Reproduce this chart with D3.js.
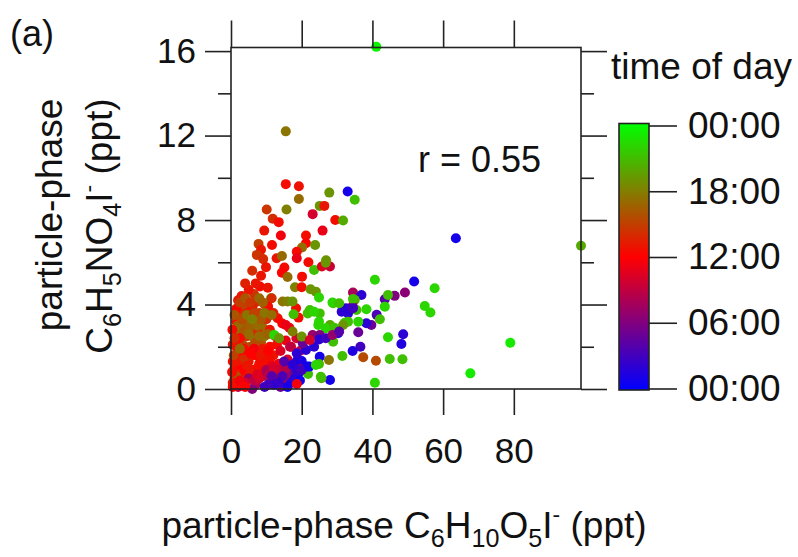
<!DOCTYPE html>
<html>
<head>
<meta charset="utf-8">
<script src="https://cdn.jsdelivr.net/npm/d3@7"></script>
<style>
  body { margin: 0; background: #fff; }
  text { font-family: "Liberation Sans", Arial, sans-serif; fill: #111; }
  .tick line { stroke: #222; stroke-width: 1.6; }
</style>
</head>
<body>
<div id="chart"></div>
<script>
// particle-phase C6H10O5I- (x, ppt), C6H5NO4I- (y, ppt), time of day (hour)
const points = [
  [41.1, 16.2, 23.5], [15.5, 12.2, 17.5], [15.5, 9.7, 12.5], [19.2, 9.6, 12.8],
  [19.2, 9.0, 17], [27.8, 9.3, 19], [33.0, 9.35, 1], [35.0, 8.96, 21],
  [25.1, 8.67, 19], [26.4, 8.67, 13], [10.1, 8.5, 14.5], [15.7, 8.5, 18],
  [11.8, 8.06, 14], [13.5, 7.9, 12.5], [23.1, 8.28, 10], [29.5, 8.0, 12.5],
  [31.7, 7.98, 20], [9.4, 7.5, 13], [25.9, 7.5, 11], [14.1, 7.27, 11.5],
  [21.2, 7.27, 12.5], [21.2, 6.9, 12], [7.8, 6.87, 15], [11.6, 6.82, 12.5],
  [23.8, 6.82, 19], [20.1, 6.7, 17], [18.6, 6.5, 12.5], [8.5, 6.59, 13],
  [7.3, 6.35, 14.5], [9.1, 6.15, 14], [12.9, 6.19, 13], [14.4, 6.3, 17],
  [18.6, 6.19, 11], [21.9, 6.0, 12.5], [9.9, 5.77, 13], [15.1, 5.75, 12.5],
  [14.4, 5.51, 12], [23.5, 5.64, 21], [25.7, 5.8, 10.5], [28.0, 5.8, 9.5],
  [26.9, 6.1, 19], [8.5, 5.36, 13], [20.1, 5.32, 12.5], [16.0, 5.3, 17],
  [63.6, 7.14, 1], [99.0, 6.78, 20], [40.7, 5.17, 22], [51.8, 5.09, 1],
  [57.6, 4.77, 22], [34.5, 4.57, 8], [36.9, 4.45, 2], [43.5, 4.25, 4],
  [46.3, 4.41, 6], [49.2, 4.57, 6.5], [44.4, 4.45, 21], [54.8, 3.93, 22],
  [56.4, 3.62, 22], [43.5, 3.9, 22], [38.3, 3.78, 22], [35.0, 4.22, 20],
  [41.2, 3.51, 3.5], [39.7, 3.03, 5], [38.3, 3.11, 2], [42.1, 3.3, 21],
  [48.7, 2.59, 2], [48.2, 2.13, 1.5], [44.4, 2.45, 22], [36.6, 2.0, 3],
  [34.4, 1.8, 1.5], [37.4, 1.5, 15.5], [41.0, 1.34, 15.5], [44.9, 1.42, 21],
  [48.5, 1.41, 21], [31.5, 1.56, 21], [28.0, 0.43, 1], [25.6, 0.51, 20],
  [40.7, 0.3, 22], [67.7, 0.74, 23], [79.0, 2.19, 23], [25.1, 1.53, 1],
  [21.8, 0.71, 21], [19.2, 0.77, 1.5], [17.1, 0.77, 18], [21.4, 1.06, 1],
  [20.0, 1.33, 1], [27.7, 1.37, 17.5], [24.9, 1.18, 21], [28.9, 2.24, 21],
  [30.3, 2.64, 1.5], [32.2, 3.14, 22], [33.1, 3.58, 2], [31.3, 3.66, 2],
  [28.9, 4.06, 21], [25.1, 3.58, 21], [24.7, 3.03, 22], [22.3, 3.74, 21],
  [28.0, 3.03, 20], [35.5, 3.74, 21], [34.4, 3.93, 7], [34.5, 4.26, 21],
  [32.5, 3.82, 2], [34.5, 3.82, 3], [33.1, 3.19, 21], [36.0, 3.19, 22],
  [36.0, 2.69, 5], [31.7, 3.03, 19], [26.8, 5.98, 19], [8.2, 4.85, 12.5],
  [18.1, 4.82, 18], [20.0, 4.82, 12.5], [22.5, 4.72, 19], [24.0, 4.61, 19],
  [10.4, 4.8, 13], [24.9, 4.33, 22], [28.7, 4.1, 22], [30.6, 4.06, 21],
  [7.5, 4.14, 14], [6.1, 3.9, 13.5], [4.7, 3.74, 13], [11.3, 4.3, 21],
  [14.6, 4.14, 17.5], [16.0, 4.14, 18], [18.4, 3.82, 12.5], [17.4, 4.14, 19],
  [19.1, 3.38, 12.5], [17.7, 3.54, 21], [13.2, 3.35, 12.5], [21.7, 3.58, 21],
  [23.5, 3.66, 22], [24.9, 3.19, 22], [26.8, 2.88, 22], [29.2, 2.9, 21],
  // dense cluster near the origin
  [1.5, 3.2, 13], [2.5, 3.6, 14], [3.5, 4.0, 15], [4.0, 3.0, 16],
  [5.0, 3.4, 17], [6.0, 2.8, 15], [7.0, 3.2, 16.5], [8.0, 3.6, 15],
  [9.0, 2.9, 17], [10.0, 3.3, 14], [2.0, 2.6, 15.5], [3.0, 2.2, 17],
  [4.5, 2.5, 14.5], [5.5, 2.0, 16], [6.5, 2.4, 17.5], [7.5, 2.7, 14],
  [8.5, 2.2, 16], [9.5, 2.5, 17.5], [11.0, 2.8, 13], [12.0, 3.6, 13.5],
  [11.5, 4.3, 14], [6.5, 4.5, 14.5], [5.0, 4.7, 13], [4.0, 5.0, 13.5],
  [9.5, 4.0, 15.5], [10.5, 3.9, 12.5], [3.0, 4.4, 13], [2.0, 4.2, 13],
  [1.5, 3.8, 12.5], [7.0, 5.0, 13], [6.0, 5.6, 14],
  [1.0, 3.5, 16], [2.0, 3.0, 17], [3.0, 3.3, 15.5], [4.5, 3.5, 17.5],
  [5.5, 3.0, 16.5], [6.5, 3.6, 15], [7.5, 3.0, 17], [8.5, 3.3, 16],
  [9.5, 3.6, 17.5], [3.5, 2.7, 16], [5.0, 2.6, 17], [7.0, 2.2, 15.5],
  [8.0, 2.5, 17], [10.5, 2.6, 16.5], [2.5, 4.1, 15], [4.0, 4.3, 16],
  [5.5, 4.1, 14.5], [8.0, 4.3, 17], [1.0, 2.8, 17.5], [6.0, 3.3, 18],
  [9.0, 4.1, 16.5], [11.5, 3.5, 17], [4.0, 2.0, 15], [2.0, 1.8, 16.5],
  [6.0, 1.6, 15.5],
  [1.0, 1.0, 12.5], [2.0, 1.5, 12], [3.0, 1.0, 12.5], [4.0, 1.8, 12],
  [5.0, 1.3, 13], [6.0, 0.9, 12.5], [7.0, 1.6, 12], [8.0, 1.2, 12.5],
  [9.0, 1.9, 13], [10.0, 1.4, 12], [11.0, 2.0, 12.5], [12.0, 1.6, 13],
  [1.5, 2.0, 13.5], [2.5, 2.4, 12.5], [3.5, 1.4, 14], [6.5, 1.9, 11.5],
  [8.5, 0.8, 12], [13.0, 2.1, 12.5],
  [0.5, 1.3, 12.5], [1.5, 1.2, 13], [2.5, 0.9, 12], [3.5, 1.9, 12.5],
  [4.5, 1.1, 13], [5.5, 1.7, 12], [7.5, 1.0, 12.5], [8.5, 1.6, 13],
  [9.5, 1.2, 12.5], [10.5, 1.8, 12], [0.5, 2.1, 13], [1.0, 0.5, 12.5],
  [2.0, 0.7, 13], [3.5, 0.7, 12], [4.5, 0.5, 12.5], [5.5, 0.8, 13],
  [0.4, 2.8, 12.5], [11.0, 1.4, 12.5],
  [0.8, 1.6, 15], [1.5, 0.6, 16], [2.5, 1.9, 17], [3.5, 0.4, 14.5],
  [0.5, 0.3, 13], [1.0, 2.4, 14],
  [12.5, 2.5, 11], [14.0, 1.8, 10.5], [15.5, 2.3, 11], [16.0, 1.4, 10],
  [17.0, 2.0, 10.5], [13.5, 1.2, 11.5], [11.5, 1.1, 11], [18.5, 2.4, 10],
  [19.5, 1.8, 9.5], [16.5, 2.9, 11], [14.5, 3.1, 12],
  [3.0, 0.2, 8], [5.0, 0.5, 7], [7.0, 0.2, 8.5], [9.0, 0.6, 7.5],
  [11.0, 0.3, 6.5], [13.0, 0.7, 7], [15.0, 0.3, 8], [2.0, 0.1, 9],
  [6.0, 0.0, 6], [10.0, 0.9, 8], [14.0, 0.1, 5], [16.5, 0.8, 6],
  [6.5, 0.4, 9], [8.0, 0.5, 10], [10.5, 0.6, 9], [12.5, 0.4, 8],
  [13.5, 0.9, 9.5], [15.5, 1.0, 8.5], [7.5, 0.7, 10.5], [12.0, 1.0, 10],
  [16.0, 0.5, 7], [17.5, 1.2, 8], [4.0, 0.3, 10], [19.0, 1.0, 7],
  [9.5, 0.1, 3], [12.0, 0.2, 2], [14.5, 0.6, 3.5], [17.0, 0.3, 1.5],
  [18.5, 0.9, 2.5], [11.5, 0.6, 4],
  [10.5, 0.2, 3], [13.5, 0.3, 2.5], [16.0, 0.1, 1], [18.0, 0.5, 2],
  [20.0, 0.9, 3], [15.0, 1.3, 4], [19.5, 0.4, 1],
  [0.5, 0.1, 12], [1.5, 0.2, 12.5], [2.5, 0.4, 11.5], [4.0, 0.1, 12],
  [0.3, 0.8, 12.5], [18.6, 0.24, 11.5],
  [12.2, 2.56, 22], [13.6, 2.4, 19], [17.4, 2.72, 18], [15.5, 3.03, 11],
  [23.1, 2.56, 7], [25.1, 2.56, 6], [24.9, 2.34, 2], [26.8, 2.4, 3],
  [23.5, 2.0, 2], [21.2, 1.85, 2], [20.3, 2.17, 5], [22.1, 1.06, 1],
  [18.8, 1.37, 1.5], [17.4, 1.14, 2], [24.0, 1.14, 22], [25.4, 0.58, 21],
  [28.7, 2.56, 7], [30.6, 2.72, 4], [20.0, 2.48, 19], [18.6, 1.69, 2],
  [16.7, 2.0, 9], [22.3, 2.32, 10]
];

const xTicks = [0, 20, 40, 60, 80];
const yTicks = [0, 4, 8, 12, 16];
const yMinorTicks = [2, 6, 10, 14];
const colorHours = [0, 6, 12, 18, 24];
const colorTickLabels = ['00:00', '06:00', '12:00', '18:00', '00:00'];

const width = 798;
const height = 557;
const margin = { top: 47.5, right: 217, bottom: 168, left: 231 };
const plot = {
  left: margin.left,
  right: width - margin.right,
  top: margin.top,
  bottom: height - margin.bottom,
};

const svg = d3.select('#chart')
  .append('svg')
  .attr('width', width)
  .attr('height', height);

const xScale = d3.scaleLinear().domain([0, 99]).range([plot.left, plot.right]);
const yScale = d3.scaleLinear().domain([0, 16.17]).range([plot.bottom, plot.top]);

// time of day colour: blue -> red -> green
const colorScale = d3.scaleLinear()
  .domain([0, 12, 24])
  .range(['#0000ff', '#ff0000', '#00ff00'])
  .interpolate(d3.interpolateRgb);

// points
svg.append('g')
  .selectAll('circle')
  .data(points)
  .join('circle')
  .attr('cx', (d) => xScale(d[0]))
  .attr('cy', (d) => yScale(d[1]))
  .attr('r', 5)
  .attr('fill', (d) => colorScale(d[2]));

// frame
svg.append('rect')
  .attr('x', plot.left)
  .attr('y', plot.top)
  .attr('width', plot.right - plot.left)
  .attr('height', plot.bottom - plot.top)
  .attr('fill', 'none')
  .attr('stroke', '#222')
  .attr('stroke-width', 1.6);

function addAxis(axis, tx, ty) {
  const g = svg.append('g')
    .attr('transform', `translate(${tx}, ${ty})`)
    .call(axis);
  g.select('.domain').remove();
  g.selectAll('text').attr('font-size', 35).attr('fill', '#111');
  return g;
}

// left axis
addAxis(d3.axisLeft(yScale).tickValues(yTicks).tickSize(26).tickPadding(9)
  .tickFormat(d3.format('d')), plot.left, 0);
addAxis(d3.axisLeft(yScale).tickValues(yMinorTicks).tickSize(13).tickFormat(''), plot.left, 0);
// right mirror
addAxis(d3.axisRight(yScale).tickValues(yTicks).tickSize(26).tickFormat(''), plot.right, 0);
addAxis(d3.axisRight(yScale).tickValues(yMinorTicks).tickSize(13).tickFormat(''), plot.right, 0);
// bottom axis
addAxis(d3.axisBottom(xScale).tickValues(xTicks).tickSize(26).tickPadding(23)
  .tickFormat(d3.format('d')), 0, plot.bottom);
// top mirror
addAxis(d3.axisTop(xScale).tickValues(xTicks).tickSize(27).tickFormat(''), 0, plot.top);

// formula text helper: parts of [text, kind]; the baseline shift is undone on the next part
function formula(sel, parts, size) {
  let shift = 0;
  parts.forEach(([t, kind]) => {
    const ts = sel.append('tspan').text(t);
    let target = 0;
    if (kind === 'sub') {
      ts.attr('font-size', size * 0.68);
      target = size * 0.24;
    } else if (kind === 'sup') {
      ts.attr('font-size', size * 0.62);
      target = -size * 0.42;
    }
    if (target !== shift) ts.attr('dy', target - shift);
    shift = target;
  });
}

// x title
const xTitle = svg.append('text')
  .attr('x', 404)
  .attr('y', 538)
  .attr('text-anchor', 'middle')
  .attr('font-size', 37);
formula(xTitle, [['particle-phase C', ''], ['6', 'sub'], ['H', ''], ['10', 'sub'],
  ['O', ''], ['5', 'sub'], ['I', ''], ['-', 'sup'], [' (ppt)', '']], 37);

// y title (two lines)
svg.append('text')
  .attr('transform', 'translate(62, 215) rotate(-90)')
  .attr('text-anchor', 'middle')
  .attr('font-size', 37)
  .text('particle-phase');
const yTitle = svg.append('text')
  .attr('transform', 'translate(112, 226) rotate(-90)')
  .attr('text-anchor', 'middle')
  .attr('font-size', 37);
formula(yTitle, [['C', ''], ['6', 'sub'], ['H', ''], ['5', 'sub'], ['NO', ''],
  ['4', 'sub'], ['I', ''], ['-', 'sup'], [' (ppt)', '']], 37);

// panel label and correlation
svg.append('text').attr('x', 10).attr('y', 46).attr('font-size', 36).text('(a)');
svg.append('text').attr('x', 418).attr('y', 172).attr('font-size', 36).text('r = 0.55');

// colour bar
const bar = { x: 619, w: 30 };
const cScale = d3.scaleLinear().domain([0, 24]).range([388.5, 125.5]);

const grad = svg.append('defs').append('linearGradient')
  .attr('id', 'todGrad')
  .attr('x1', 0).attr('y1', 1).attr('x2', 0).attr('y2', 0);
grad.selectAll('stop')
  .data(colorHours)
  .join('stop')
  .attr('offset', (d) => d / 24)
  .attr('stop-color', (d) => colorScale(d));

svg.append('rect')
  .attr('x', bar.x)
  .attr('y', cScale(24) - 2)
  .attr('width', bar.w)
  .attr('height', cScale(0) - cScale(24) + 3.5)
  .attr('fill', 'url(#todGrad)')
  .attr('stroke', '#222')
  .attr('stroke-width', 1.6);

addAxis(d3.axisRight(cScale).tickValues(colorHours).tickSize(28).tickPadding(11)
  .tickFormat((d, i) => colorTickLabels[i]), bar.x + bar.w, 0)
  .selectAll('text').attr('font-size', 37);

svg.append('text')
  .attr('x', 611)
  .attr('y', 79)
  .attr('font-size', 37)
  .text('time of day');
</script>
</body>
</html>
